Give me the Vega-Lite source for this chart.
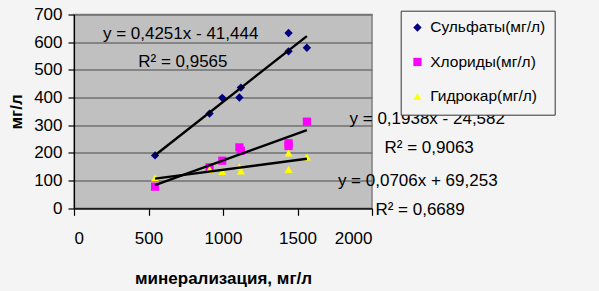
{
  "$schema": "https://vega.github.io/schema/vega-lite/v6.json",
  "autosize": {"type": "none"},
  "padding": {"left": 74, "top": 14.5, "right": 226.5, "bottom": 82.7},
  "width": 298,
  "height": 193.8,
  "background": "#f4f4f4",
  "config": {
    "font": "Liberation Sans",
    "view": {"fill": "#c0c0c0", "stroke": "#808080", "strokeWidth": 1.5},
    "axis": {
      "labelFont": "Liberation Sans",
      "labelFontSize": 17,
      "labelColor": "#000000",
      "labelOverlap": false,
      "titleFont": "Liberation Sans",
      "titleFontSize": 17,
      "titleFontWeight": "bold",
      "titleColor": "#000000",
      "domainColor": "#000000",
      "domainWidth": 1.2,
      "tickColor": "#000000",
      "tickWidth": 1.2
    },
    "legend": {
      "orient": "none",
      "legendX": 326.7,
      "legendY": -3.8,
      "strokeColor": "#333333",
      "fillColor": "#f4f4f4",
      "padding": 9,
      "rowPadding": 17.5,
      "labelFont": "Liberation Sans",
      "labelFontSize": 15.5,
      "labelColor": "#000000",
      "labelOffset": 5,
      "symbolSize": 45,
      "symbolStrokeWidth": 0
    }
  },
  "data": {
    "values": [
      {"series": "Сульфаты(мг/л)", "mineral": 544, "value": 191},
      {"series": "Сульфаты(мг/л)", "mineral": 910, "value": 342},
      {"series": "Сульфаты(мг/л)", "mineral": 995, "value": 399},
      {"series": "Сульфаты(мг/л)", "mineral": 1110, "value": 400},
      {"series": "Сульфаты(мг/л)", "mineral": 1120, "value": 436},
      {"series": "Сульфаты(мг/л)", "mineral": 1440, "value": 567},
      {"series": "Сульфаты(мг/л)", "mineral": 1440, "value": 633},
      {"series": "Сульфаты(мг/л)", "mineral": 1563, "value": 580},
      {"series": "Хлориды(мг/л)", "mineral": 544, "value": 78},
      {"series": "Хлориды(мг/л)", "mineral": 910, "value": 148},
      {"series": "Хлориды(мг/л)", "mineral": 995, "value": 172},
      {"series": "Хлориды(мг/л)", "mineral": 1110, "value": 220},
      {"series": "Хлориды(мг/л)", "mineral": 1120, "value": 208},
      {"series": "Хлориды(мг/л)", "mineral": 1440, "value": 225},
      {"series": "Хлориды(мг/л)", "mineral": 1440, "value": 235},
      {"series": "Хлориды(мг/л)", "mineral": 1563, "value": 313},
      {"series": "Гидрокар(мг/л)", "mineral": 544, "value": 110},
      {"series": "Гидрокар(мг/л)", "mineral": 910, "value": 140},
      {"series": "Гидрокар(мг/л)", "mineral": 995, "value": 133},
      {"series": "Гидрокар(мг/л)", "mineral": 1110, "value": 150},
      {"series": "Гидрокар(мг/л)", "mineral": 1120, "value": 135},
      {"series": "Гидрокар(мг/л)", "mineral": 1440, "value": 200},
      {"series": "Гидрокар(мг/л)", "mineral": 1440, "value": 140},
      {"series": "Гидрокар(мг/л)", "mineral": 1563, "value": 185}
    ]
  },
  "encoding": {
    "x": {
      "field": "mineral", "type": "quantitative",
      "scale": {"domain": [0, 2000], "nice": false, "zero": false},
      "axis": {
        "values": [0, 500, 1000, 1500, 2000],
        "format": "d",
        "grid": false,
        "tickSize": 7,
        "labelPadding": 15,
        "title": "минерализация, мг/л",
        "titlePadding": 24
      }
    },
    "y": {
      "field": "value", "type": "quantitative",
      "scale": {"domain": [0, 700], "nice": false, "zero": false},
      "axis": {
        "values": [0, 100, 200, 300, 400, 500, 600, 700],
        "format": "d",
        "grid": true,
        "gridColor": "#707070",
        "gridWidth": 1.3,
        "gridOpacity": 1,
        "tickSize": 6,
        "labelPadding": 6,
        "labelOverlap": false,
        "title": "мг/л",
        "titlePadding": 8
      }
    }
  },
  "layer": [
    {
      "mark": {"type": "point", "filled": true, "opacity": 1},
      "encoding": {
        "color": {
          "field": "series", "type": "nominal",
          "scale": {
            "domain": ["Сульфаты(мг/л)", "Хлориды(мг/л)", "Гидрокар(мг/л)"],
            "range": ["#000080", "#ff00ff", "#ffff00"]
          },
          "legend": {"title": null}
        },
        "shape": {
          "field": "series", "type": "nominal",
          "scale": {
            "domain": ["Сульфаты(мг/л)", "Хлориды(мг/л)", "Гидрокар(мг/л)"],
            "range": ["diamond", "square", "triangle-up"]
          },
          "legend": {"title": null}
        },
        "size": {
          "field": "series", "type": "nominal",
          "scale": {
            "domain": ["Сульфаты(мг/л)", "Хлориды(мг/л)", "Гидрокар(мг/л)"],
            "range": [70, 64, 130]
          },
          "legend": null
        }
      }
    },
    {
      "transform": [
        {"regression": "value", "on": "mineral", "groupby": ["series"], "method": "linear", "extent": [544, 1563]}
      ],
      "mark": {"type": "line", "color": "#000000", "strokeWidth": 2.4},
      "encoding": {
        "detail": {"field": "series", "type": "nominal"}
      }
    },
    {
      "data": {
        "values": [
          {"mineral": 194, "value": 631, "label": "y = 0,4251x - 41,444"},
          {"mineral": 431, "value": 528, "label": "R² = 0,9565"},
          {"mineral": 1849, "value": 322, "label": "y = 0,1938x - 24,582"},
          {"mineral": 2084, "value": 217, "label": "R² = 0,9063"},
          {"mineral": 1771, "value": 100, "label": "y = 0,0706x + 69,253"},
          {"mineral": 2023, "value": -7, "label": "R² = 0,6689"}
        ]
      },
      "mark": {"type": "text", "align": "left", "baseline": "middle", "fontSize": 17, "font": "Liberation Sans", "color": "#000000"},
      "encoding": {
        "text": {"field": "label", "type": "nominal"}
      }
    }
  ]
}
